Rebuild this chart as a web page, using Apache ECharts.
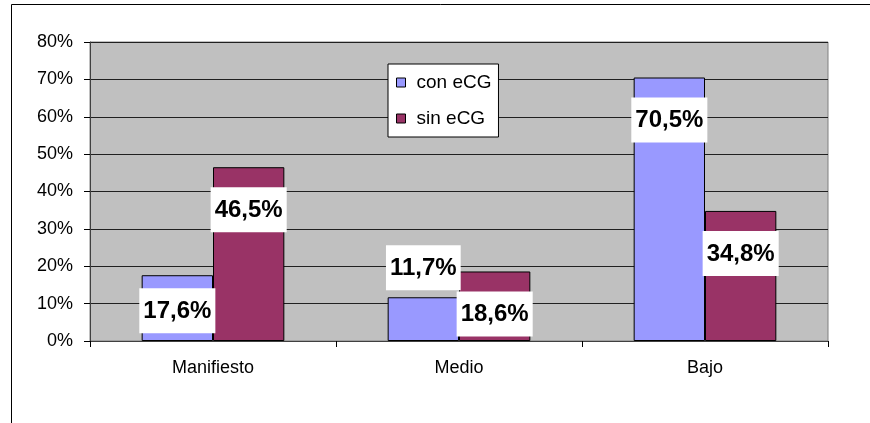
<!DOCTYPE html>
<html>
<head>
<meta charset="utf-8">
<script src="https://cdn.jsdelivr.net/npm/echarts@6/dist/echarts.min.js"></script>
<style>
  html, body { margin: 0; padding: 0; background: #fff; }
  #chart { width: 870px; height: 423px; }
</style>
</head>
<body>
<div id="chart"></div>
<script>
const categories = ["Manifiesto", "Medio", "Bajo"];
const conECG = [17.6, 11.7, 70.5];
const sinECG = [46.5, 18.6, 34.8];
const seriesNames = ["con eCG", "sin eCG"];

// etiqueta estilo Excel: caja blanca, texto negrita
function fmt(v) {
  return v.toFixed(1).replace(".", ",") + "%";
}
const labelBase = {
  show: true,
  position: "insideTop",
  distance: 20,
  formatter: p => fmt(p.value),
  fontFamily: "Liberation Sans",
  fontWeight: "bold",
  fontSize: 24,
  color: "#000",
  backgroundColor: "#fff",
  padding: [11, 4, 10, 4]
};

function withLabels(arr, overrides) {
  return arr.map((v, i) => {
    const o = overrides[i];
    return o ? { value: v, label: o } : v;
  });
}

const option = {
  animation: false,
  textStyle: { fontFamily: "Liberation Sans" },
  graphic: [
    { type: "line", shape: { x1: 11.5, y1: 4.5, x2: 870, y2: 4.5 }, style: { stroke: "#000", lineWidth: 1 } },
    { type: "line", shape: { x1: 11.5, y1: 4.5, x2: 11.5, y2: 423 }, style: { stroke: "#000", lineWidth: 1 } }
  ],
  grid: {
    left: 90,
    right: 42,
    top: 42,
    bottom: 82,
    show: true,
    backgroundColor: "#C0C0C0",
    borderColor: "#808080",
    borderWidth: 1
  },
  legend: {
    data: seriesNames,
    orient: "vertical",
    left: 388,
    top: 64,
    backgroundColor: "#fff",
    borderColor: "#000",
    borderWidth: 1,
    borderRadius: 0,
    padding: [9, 7, 9, 8],
    itemGap: 17,
    itemWidth: 9,
    itemHeight: 9,
    icon: "rect",
    itemStyle: { borderColor: "#000", borderWidth: 1 },
    textStyle: { fontSize: 19, color: "#000", fontFamily: "Liberation Sans", padding: [0, 0, 0, 6] }
  },
  xAxis: {
    type: "category",
    data: categories,
    axisLine: { lineStyle: { color: "#404040", width: 1 } },
    axisTick: { show: true, length: 6, lineStyle: { color: "#000" } },
    axisLabel: { fontSize: 18, color: "#000", margin: 18 }
  },
  yAxis: {
    type: "value",
    min: 0,
    max: 80,
    interval: 10,
    axisLine: { show: true, lineStyle: { color: "#404040", width: 1 } },
    axisTick: { show: true, length: 6, lineStyle: { color: "#000" } },
    axisLabel: { fontSize: 18, color: "#000", margin: 17, formatter: "{value}%" },
    splitLine: { lineStyle: { color: "#202020", width: 1 } }
  },
  series: [
    {
      name: seriesNames[0],
      type: "bar",
      barGap: "0%",
      barCategoryGap: "42%",
      itemStyle: { color: "#9999FF", borderColor: "#000", borderWidth: 1 },
      label: labelBase,
      data: withLabels(conECG, [{ distance: 13 }, { position: "top", distance: 7 }, null])
    },
    {
      name: seriesNames[1],
      type: "bar",
      barGap: "0%",
      barCategoryGap: "42%",
      itemStyle: { color: "#993366", borderColor: "#000", borderWidth: 1 },
      label: labelBase,
      data: sinECG
    }
  ]
};

const chart = echarts.init(document.getElementById("chart"));
chart.setOption(option);
window.addEventListener("resize", function() {
  chart.resize();
});
</script>
</body>
</html>
